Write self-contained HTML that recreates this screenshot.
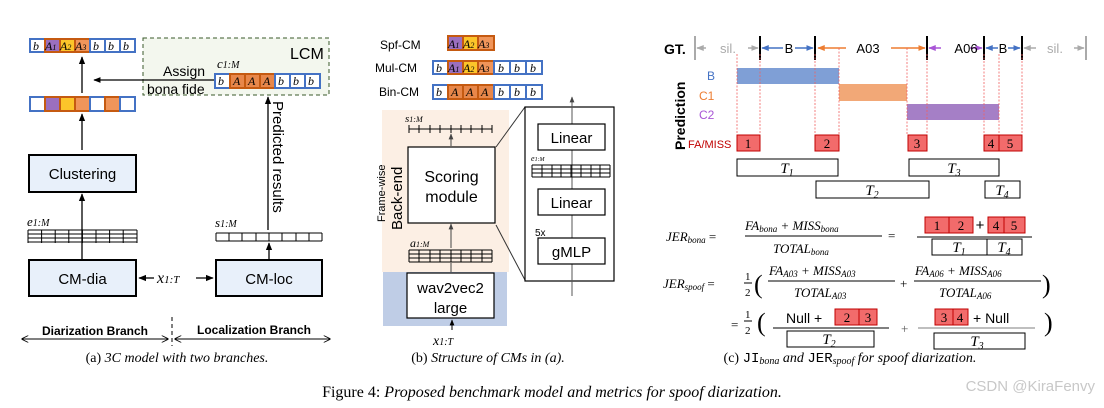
<!DOCTYPE html>
<html><head><meta charset="utf-8"><style>
html,body{margin:0;padding:0;background:#fff}
svg{display:block}
.s{font-family:"Liberation Sans",sans-serif}
.m{font-family:"Liberation Serif",serif;font-style:italic}
</style></head><body>
<svg width="1104" height="408" viewBox="0 0 1104 408" xmlns="http://www.w3.org/2000/svg">
<defs>
<marker id="ah" viewBox="0 0 10 10" refX="9" refY="5" markerWidth="6" markerHeight="6" orient="auto-start-reverse"><path d="M0,1 L10,5 L0,9z" fill="#000"/></marker>
<marker id="ag" viewBox="0 0 10 10" refX="9" refY="5" markerWidth="6" markerHeight="6" orient="auto-start-reverse"><path d="M0,1 L10,5 L0,9z" fill="#444"/></marker>
<marker id="oa" viewBox="0 0 10 10" refX="9" refY="5" markerWidth="7" markerHeight="7" orient="auto-start-reverse"><path d="M0,0 L10,5 L0,10" fill="none" stroke="#000" stroke-width="1.2"/></marker>
<marker id="gb" viewBox="0 0 10 10" refX="9" refY="5" markerWidth="5" markerHeight="5" orient="auto-start-reverse"><path d="M0,1 L10,5 L0,9z" fill="#4472c4"/></marker>
<marker id="go" viewBox="0 0 10 10" refX="9" refY="5" markerWidth="5" markerHeight="5" orient="auto-start-reverse"><path d="M0,1 L10,5 L0,9z" fill="#ed7d31"/></marker>
<marker id="gp" viewBox="0 0 10 10" refX="9" refY="5" markerWidth="5" markerHeight="5" orient="auto-start-reverse"><path d="M0,1 L10,5 L0,9z" fill="#a855d6"/></marker>
<marker id="gg" viewBox="0 0 10 10" refX="9" refY="5" markerWidth="5" markerHeight="5" orient="auto-start-reverse"><path d="M0,1 L10,5 L0,9z" fill="#aaa"/></marker>
</defs>

<!-- ===== Panel (a) ===== -->
<!-- LCM box -->
<rect x="143" y="38" width="186" height="57" fill="#f3f7ee" stroke="#3a5a2a" stroke-dasharray="4,3"/>
<text x="290" y="59" class="s" font-size="16">LCM</text>
<!-- top row -->
<g stroke-width="2">
<rect x="30" y="39" width="15" height="13" fill="#fff" stroke="#4472c4"/>
<rect x="45" y="39" width="15" height="13" fill="#9b6fbf" stroke="#c55a11"/>
<rect x="60" y="39" width="15" height="13" fill="#fcc52a" stroke="#c55a11"/>
<rect x="75" y="39" width="15" height="13" fill="#f0955a" stroke="#c55a11"/>
<rect x="90" y="39" width="15" height="13" fill="#fff" stroke="#4472c4"/>
<rect x="105" y="39" width="15" height="13" fill="#fff" stroke="#4472c4"/>
<rect x="120" y="39" width="15" height="13" fill="#fff" stroke="#4472c4"/>
</g>
<g class="m" font-size="12">
<text x="33" y="50">b</text><text x="45" y="50">A<tspan font-size="8">1</tspan></text><text x="60" y="50">A<tspan font-size="8">2</tspan></text><text x="75" y="50">A<tspan font-size="8">3</tspan></text><text x="93" y="50">b</text><text x="108" y="50">b</text><text x="123" y="50">b</text>
</g>
<line x1="82" y1="93" x2="82" y2="57" stroke="#000" stroke-width="1.3" marker-end="url(#ah)"/>
<!-- middle row -->
<g stroke-width="2">
<rect x="30" y="97" width="15" height="14" fill="#fff" stroke="#4472c4"/>
<rect x="45" y="97" width="15" height="14" fill="#9b6fbf" stroke="#c55a11"/>
<rect x="60" y="97" width="15" height="14" fill="#fcc52a" stroke="#c55a11"/>
<rect x="75" y="97" width="15" height="14" fill="#f0955a" stroke="#c55a11"/>
<rect x="90" y="97" width="15" height="14" fill="#fff" stroke="#4472c4"/>
<rect x="105" y="97" width="15" height="14" fill="#f0955a" stroke="#c55a11"/>
<rect x="120" y="97" width="15" height="14" fill="#fff" stroke="#4472c4"/>
</g>
<line x1="82" y1="150" x2="82" y2="114" stroke="#000" stroke-width="1.3" marker-end="url(#ah)"/>
<!-- LCM row -->
<text x="217" y="68" class="m" font-size="13">c<tspan font-size="10">1:M</tspan></text>
<g stroke-width="2">
<rect x="215" y="74" width="15" height="14" fill="#fff" stroke="#4472c4"/>
<rect x="230" y="74" width="15" height="14" fill="#e8874a" stroke="#c55a11"/>
<rect x="245" y="74" width="15" height="14" fill="#e8874a" stroke="#c55a11"/>
<rect x="260" y="74" width="15" height="14" fill="#e8874a" stroke="#c55a11"/>
<rect x="275" y="74" width="15" height="14" fill="#fff" stroke="#4472c4"/>
<rect x="290" y="74" width="15" height="14" fill="#fff" stroke="#4472c4"/>
<rect x="305" y="74" width="15" height="14" fill="#fff" stroke="#4472c4"/>
</g>
<g class="m" font-size="12">
<text x="218" y="85">b</text><text x="233" y="85">A</text><text x="248" y="85">A</text><text x="263" y="85">A</text><text x="278" y="85">b</text><text x="293" y="85">b</text><text x="308" y="85">b</text>
</g>
<line x1="214" y1="80" x2="94" y2="80" stroke="#000" stroke-width="1.2" marker-end="url(#ah)"/>
<text x="163" y="76" class="s" font-size="14">Assign</text>
<text x="147" y="94" class="s" font-size="14">bona fide</text>
<!-- Clustering -->
<rect x="29" y="155" width="107" height="37" fill="#e8f0fa" stroke="#000" stroke-width="2"/>
<text x="82.5" y="179" class="s" font-size="15" text-anchor="middle">Clustering</text>
<!-- e grid -->
<text x="27" y="226" class="m" font-size="13">e<tspan font-size="10">1:M</tspan></text>
<g stroke="#000" stroke-width="1">
<line x1="28" y1="230" x2="137" y2="230"/><line x1="28" y1="234" x2="137" y2="234"/><line x1="28" y1="238" x2="137" y2="238"/><line x1="28" y1="242" x2="137" y2="242"/>
<line x1="28" y1="230" x2="28" y2="243"/><line x1="41.6" y1="230" x2="41.6" y2="243"/><line x1="55.2" y1="230" x2="55.2" y2="243"/><line x1="68.8" y1="230" x2="68.8" y2="243"/><line x1="82.4" y1="230" x2="82.4" y2="243"/><line x1="96" y1="230" x2="96" y2="243"/><line x1="109.6" y1="230" x2="109.6" y2="243"/><line x1="123.2" y1="230" x2="123.2" y2="243"/><line x1="137" y1="230" x2="137" y2="243"/>
</g>
<line x1="82" y1="259" x2="82" y2="194" stroke="#000" stroke-width="1.3" marker-end="url(#ah)"/>
<rect x="29" y="260" width="107" height="36" fill="#e8f0fa" stroke="#000" stroke-width="2"/>
<text x="82.5" y="284" class="s" font-size="15" text-anchor="middle">CM-dia</text>
<rect x="216" y="260" width="106" height="36" fill="#e8f0fa" stroke="#000" stroke-width="2"/>
<text x="269" y="284" class="s" font-size="15" text-anchor="middle">CM-loc</text>
<text x="157" y="283" class="m" font-size="16">x<tspan font-size="11">1:T</tspan></text>
<line x1="154" y1="278" x2="139" y2="278" stroke="#000" stroke-width="1.3" marker-end="url(#ah)"/>
<line x1="196" y1="278" x2="213" y2="278" stroke="#000" stroke-width="1.3" marker-end="url(#ah)"/>
<!-- s grid -->
<text x="215" y="227" class="m" font-size="13">s<tspan font-size="10">1:M</tspan></text>
<g stroke="#000" stroke-width="1">
<line x1="216" y1="233" x2="322" y2="233"/><line x1="216" y1="241" x2="322" y2="241"/>
<line x1="216" y1="233" x2="216" y2="241"/><line x1="229" y1="233" x2="229" y2="241"/><line x1="242" y1="233" x2="242" y2="241"/><line x1="256" y1="233" x2="256" y2="241"/><line x1="269" y1="233" x2="269" y2="241"/><line x1="282" y1="233" x2="282" y2="241"/><line x1="296" y1="233" x2="296" y2="241"/><line x1="309" y1="233" x2="309" y2="241"/><line x1="322" y1="233" x2="322" y2="241"/>
</g>
<line x1="269" y1="259" x2="269" y2="243" stroke="#000" stroke-width="1.3" marker-end="url(#ah)"/>
<line x1="268" y1="230" x2="268" y2="97" stroke="#000" stroke-width="1.3" marker-end="url(#ah)"/>
<text transform="translate(273,101) rotate(90)" class="s" font-size="15">Predicted results</text>
<!-- branches -->
<line x1="172" y1="317" x2="172" y2="346" stroke="#000" stroke-dasharray="4,3"/>
<line x1="22" y1="339" x2="168" y2="339" stroke="#000" marker-start="url(#oa)" marker-end="url(#oa)"/>
<line x1="175" y1="339" x2="330" y2="339" stroke="#000" marker-start="url(#oa)" marker-end="url(#oa)"/>
<text x="95" y="335" class="s" font-size="12" font-weight="bold" text-anchor="middle">Diarization Branch</text>
<text x="254" y="334" class="s" font-size="12" font-weight="bold" text-anchor="middle">Localization Branch</text>
<text x="177" y="362" font-family="Liberation Serif,serif" font-size="14" text-anchor="middle">(a) <tspan font-style="italic">3C model with two branches.</tspan></text>

<!-- ===== Panel (b) ===== -->
<text x="380" y="49" class="s" font-size="12">Spf-CM</text>
<text x="375" y="72" class="s" font-size="12">Mul-CM</text>
<text x="379" y="96" class="s" font-size="12">Bin-CM</text>
<g stroke-width="2">
<rect x="448" y="36" width="15" height="14" fill="#9b6fbf" stroke="#c55a11"/>
<rect x="463" y="36" width="15" height="14" fill="#fcc52a" stroke="#c55a11"/>
<rect x="478" y="36" width="16" height="14" fill="#f0955a" stroke="#c55a11"/>
<rect x="433" y="61" width="15" height="13" fill="#fff" stroke="#4472c4"/>
<rect x="448" y="61" width="15" height="13" fill="#9b6fbf" stroke="#c55a11"/>
<rect x="463" y="61" width="15" height="13" fill="#fcc52a" stroke="#c55a11"/>
<rect x="478" y="61" width="16" height="13" fill="#f0955a" stroke="#c55a11"/>
<rect x="494" y="61" width="16" height="13" fill="#fff" stroke="#4472c4"/>
<rect x="510" y="61" width="16" height="13" fill="#fff" stroke="#4472c4"/>
<rect x="526" y="61" width="16" height="13" fill="#fff" stroke="#4472c4"/>
<rect x="433" y="85" width="15" height="14" fill="#fff" stroke="#4472c4"/>
<rect x="448" y="85" width="15" height="14" fill="#e8874a" stroke="#c55a11"/>
<rect x="463" y="85" width="15" height="14" fill="#e8874a" stroke="#c55a11"/>
<rect x="478" y="85" width="16" height="14" fill="#e8874a" stroke="#c55a11"/>
<rect x="494" y="85" width="16" height="14" fill="#fff" stroke="#4472c4"/>
<rect x="510" y="85" width="16" height="14" fill="#fff" stroke="#4472c4"/>
<rect x="526" y="85" width="16" height="14" fill="#fff" stroke="#4472c4"/>
</g>
<g class="m" font-size="12">
<text x="448" y="48">A<tspan font-size="8">1</tspan></text><text x="463" y="48">A<tspan font-size="8">2</tspan></text><text x="478" y="48">A<tspan font-size="8">3</tspan></text>
<text x="436" y="72">b</text><text x="448" y="72">A<tspan font-size="8">1</tspan></text><text x="463" y="72">A<tspan font-size="8">2</tspan></text><text x="478" y="72">A<tspan font-size="8">3</tspan></text><text x="498" y="72">b</text><text x="514" y="72">b</text><text x="530" y="72">b</text>
<text x="436" y="96">b</text><text x="451" y="96">A</text><text x="466" y="96">A</text><text x="481" y="96">A</text><text x="498" y="96">b</text><text x="514" y="96">b</text><text x="530" y="96">b</text>
</g>
<rect x="382" y="110" width="127" height="162" fill="#fcefe4"/>
<rect x="383" y="272" width="124" height="54" fill="#bfcde6"/>
<text transform="translate(385,222) rotate(-90)" class="s" font-size="11">Frame-wise</text>
<text transform="translate(402,230) rotate(-90)" class="s" font-size="15">Back-end</text>
<text x="405" y="122" class="m" font-size="11">s<tspan font-size="8">1:M</tspan></text>
<g stroke="#000" stroke-width="1">
<line x1="409" y1="129" x2="492" y2="129"/>
<line x1="409" y1="125" x2="409" y2="133"/><line x1="419" y1="125" x2="419" y2="133"/><line x1="430" y1="125" x2="430" y2="133"/><line x1="440" y1="125" x2="440" y2="133"/><line x1="451" y1="125" x2="451" y2="133"/><line x1="461" y1="125" x2="461" y2="133"/><line x1="471" y1="125" x2="471" y2="133"/><line x1="482" y1="125" x2="482" y2="133"/><line x1="492" y1="125" x2="492" y2="133"/>
</g>
<line x1="451" y1="146" x2="451" y2="134" stroke="#444" stroke-width="1" marker-end="url(#ag)"/>
<rect x="408" y="147" width="87" height="76" fill="#fff" stroke="#000" stroke-width="1.2"/>
<text x="451.5" y="182" class="s" font-size="16" text-anchor="middle">Scoring</text>
<text x="451.5" y="202" class="s" font-size="16" text-anchor="middle">module</text>
<line x1="451" y1="248" x2="451" y2="224" stroke="#444" stroke-width="1" marker-end="url(#ag)"/>
<text x="410" y="247" class="m" font-size="12">a<tspan font-size="8">1:M</tspan></text>
<g stroke="#000" stroke-width="1">
<line x1="409" y1="250" x2="492" y2="250"/><line x1="409" y1="254" x2="492" y2="254"/><line x1="409" y1="258" x2="492" y2="258"/><line x1="409" y1="262" x2="492" y2="262"/>
<line x1="409" y1="250" x2="409" y2="262"/><line x1="419" y1="250" x2="419" y2="262"/><line x1="430" y1="250" x2="430" y2="262"/><line x1="440" y1="250" x2="440" y2="262"/><line x1="451" y1="250" x2="451" y2="262"/><line x1="461" y1="250" x2="461" y2="262"/><line x1="471" y1="250" x2="471" y2="262"/><line x1="482" y1="250" x2="482" y2="262"/><line x1="492" y1="250" x2="492" y2="262"/>
</g>
<line x1="451" y1="272" x2="451" y2="263" stroke="#444" stroke-width="1"/>
<rect x="407" y="273" width="87" height="45" fill="#fff" stroke="#000" stroke-width="1.2"/>
<text x="450.5" y="293" class="s" font-size="15" text-anchor="middle">wav2vec2</text>
<text x="450.5" y="313" class="s" font-size="15" text-anchor="middle">large</text>
<line x1="452" y1="330" x2="452" y2="320" stroke="#000" stroke-width="1" marker-end="url(#ah)"/>
<text x="433" y="345" class="m" font-size="14">x<tspan font-size="10">1:T</tspan></text>
<!-- zoom box -->
<line x1="496" y1="147" x2="525" y2="107" stroke="#333"/>
<line x1="496" y1="225" x2="525" y2="280" stroke="#333"/>
<rect x="525" y="107" width="89" height="174" fill="#fff" stroke="#000" stroke-width="1.2"/>
<line x1="572" y1="296" x2="572" y2="97" stroke="#555" stroke-width="1" marker-end="url(#ag)"/>
<rect x="538" y="124" width="67" height="26" fill="#fff" stroke="#000" stroke-width="1.2"/>
<text x="571.5" y="143" class="s" font-size="15" text-anchor="middle">Linear</text>
<rect x="538" y="189" width="67" height="26" fill="#fff" stroke="#000" stroke-width="1.2"/>
<text x="571.5" y="208" class="s" font-size="15" text-anchor="middle">Linear</text>
<rect x="538" y="238" width="67" height="26" fill="#fff" stroke="#000" stroke-width="1.2"/>
<text x="571.5" y="257" class="s" font-size="15" text-anchor="middle">gMLP</text>
<text x="535" y="236" class="s" font-size="10">5x</text>
<text x="531" y="161" class="m" font-size="8">e<tspan font-size="6">1:M</tspan></text>
<g stroke="#000" stroke-width="1">
<line x1="532" y1="165" x2="610" y2="165"/><line x1="532" y1="169" x2="610" y2="169"/><line x1="532" y1="173" x2="610" y2="173"/><line x1="532" y1="177" x2="610" y2="177"/>
<line x1="532" y1="165" x2="532" y2="177"/><line x1="542" y1="165" x2="542" y2="177"/><line x1="552" y1="165" x2="552" y2="177"/><line x1="561" y1="165" x2="561" y2="177"/><line x1="571" y1="165" x2="571" y2="177"/><line x1="581" y1="165" x2="581" y2="177"/><line x1="591" y1="165" x2="591" y2="177"/><line x1="600" y1="165" x2="600" y2="177"/><line x1="610" y1="165" x2="610" y2="177"/>
</g>
<text x="488" y="362" font-family="Liberation Serif,serif" font-size="14" text-anchor="middle">(b) <tspan font-style="italic">Structure of CMs in (a).</tspan></text>

<!-- ===== Panel (c) ===== -->
<text x="664" y="54" class="s" font-size="14" font-weight="bold">GT.</text>
<text transform="translate(685,150) rotate(-90)" class="s" font-size="14" font-weight="bold">Prediction</text>
<!-- GT line -->
<g stroke-width="1.5">
<line x1="697" y1="48" x2="706" y2="48" stroke="#aaa" marker-start="url(#gg)"/>
<line x1="748" y1="48" x2="758" y2="48" stroke="#aaa" marker-end="url(#gg)"/>
<line x1="762" y1="48" x2="783" y2="48" stroke="#4472c4" marker-start="url(#gb)"/>
<line x1="795" y1="48" x2="813" y2="48" stroke="#4472c4" marker-end="url(#gb)"/>
<line x1="818" y1="48" x2="846" y2="48" stroke="#ed7d31" marker-start="url(#go)"/>
<line x1="891" y1="48" x2="925" y2="48" stroke="#ed7d31" marker-end="url(#go)"/>
<line x1="929" y1="48" x2="941" y2="48" stroke="#a855d6" marker-start="url(#gp)"/>
<line x1="970" y1="48" x2="982" y2="48" stroke="#a855d6" marker-end="url(#gp)"/>
<line x1="986" y1="48" x2="998" y2="48" stroke="#4472c4" marker-start="url(#gb)"/>
<line x1="1008" y1="48" x2="1020" y2="48" stroke="#4472c4" marker-end="url(#gb)"/>
<line x1="1024" y1="48" x2="1036" y2="48" stroke="#aaa" marker-start="url(#gg)"/>
<line x1="1074" y1="48" x2="1084" y2="48" stroke="#aaa" marker-end="url(#gg)"/>
</g>
<g stroke-width="2">
<line x1="695" y1="36" x2="695" y2="60" stroke="#aaa"/><line x1="1086" y1="36" x2="1086" y2="60" stroke="#aaa"/>
<line x1="760" y1="36" x2="760" y2="60" stroke="#000"/><line x1="815" y1="36" x2="815" y2="60" stroke="#000"/><line x1="927" y1="36" x2="927" y2="60" stroke="#000"/><line x1="984" y1="36" x2="984" y2="60" stroke="#000"/><line x1="1022" y1="36" x2="1022" y2="60" stroke="#000"/>
</g>
<g class="s" font-size="13">
<text x="728" y="53" fill="#aaa" text-anchor="middle">sil.</text>
<text x="789" y="53" text-anchor="middle">B</text>
<text x="868" y="53" text-anchor="middle">A03</text>
<text x="966" y="53" text-anchor="middle">A06</text>
<text x="1003" y="53" text-anchor="middle">B</text>
<text x="1055" y="53" fill="#aaa" text-anchor="middle">sil.</text>
</g>
<g class="s" font-size="12">
<text x="707" y="80" fill="#4472c4">B</text>
<text x="699" y="100" fill="#ed7d31">C1</text>
<text x="699" y="119" fill="#a855d6">C2</text>
<text x="688" y="148" fill="#c00000" font-size="11">FA/MISS</text>
</g>
<rect x="737" y="68" width="102" height="16" fill="#7f9fd6"/>
<rect x="839" y="84" width="68" height="17" fill="#f2a877"/>
<rect x="907" y="104" width="92" height="16" fill="#a57fc6"/>
<g stroke="#f06060" stroke-width="0.8" stroke-dasharray="2,1.5">
<line x1="737" y1="54" x2="737" y2="135"/><line x1="760" y1="54" x2="760" y2="135"/><line x1="815" y1="54" x2="815" y2="135"/><line x1="839" y1="48" x2="839" y2="135"/><line x1="907" y1="48" x2="907" y2="135"/><line x1="927" y1="54" x2="927" y2="135"/><line x1="984" y1="54" x2="984" y2="135"/><line x1="999" y1="54" x2="999" y2="135"/><line x1="1022" y1="54" x2="1022" y2="135"/>
</g>
<g fill="#f26b6b" stroke="#c00000" stroke-width="1">
<rect x="737" y="135" width="23" height="16"/><rect x="815" y="135" width="24" height="16"/><rect x="908" y="135" width="19" height="16"/><rect x="984" y="135" width="15" height="16"/><rect x="999" y="135" width="23" height="16"/>
</g>
<g font-family="Liberation Serif,serif" font-size="13" text-anchor="middle">
<text x="748" y="148">1</text><text x="827" y="148">2</text><text x="917" y="148">3</text><text x="991" y="148">4</text><text x="1010" y="148">5</text>
</g>
<g fill="none" stroke="#000" stroke-width="1">
<rect x="737" y="159" width="101" height="17"/><rect x="909" y="159" width="90" height="17"/>
<rect x="816" y="181" width="113" height="17"/><rect x="985" y="181" width="35" height="17"/>
</g>
<g class="m" font-size="15" text-anchor="middle">
<text x="787" y="173">T<tspan font-size="10" dy="3">1</tspan></text>
<text x="954" y="173">T<tspan font-size="10" dy="3">3</tspan></text>
<text x="872" y="195">T<tspan font-size="10" dy="3">2</tspan></text>
<text x="1002" y="195">T<tspan font-size="10" dy="3">4</tspan></text>
</g>
<!-- formulas -->
<g class="m" font-size="13">
<text x="666" y="241">JER<tspan font-size="9" dy="2">bona</tspan><tspan font-style="normal" dy="-2"> =</tspan></text>
<text x="745" y="230">FA<tspan font-size="9" dy="2">bona</tspan><tspan dy="-2"> + MISS</tspan><tspan font-size="9" dy="2">bona</tspan></text>
<line x1="745" y1="236" x2="882" y2="236" stroke="#000"/>
<text x="773" y="253">TOTAL<tspan font-size="9" dy="2">bona</tspan></text>
<text x="888" y="240" font-style="normal">=</text>
<text x="663" y="288">JER<tspan font-size="9" dy="2">spoof</tspan><tspan font-style="normal" dy="-2"> =</tspan></text>
<text x="745" y="280" font-style="normal" font-size="11">1</text>
<line x1="744" y1="283" x2="752" y2="283" stroke="#000"/>
<text x="745" y="296" font-style="normal" font-size="11">2</text>
<text x="754" y="293" font-style="normal" font-size="26" transform="scale(1,1)">(</text>
<text x="769" y="275">FA<tspan font-size="9" dy="2">A03</tspan><tspan dy="-2"> + MISS</tspan><tspan font-size="9" dy="2">A03</tspan></text>
<line x1="768" y1="281" x2="895" y2="281" stroke="#000"/>
<text x="794" y="297">TOTAL<tspan font-size="9" dy="2">A03</tspan></text>
<text x="900" y="288" font-style="normal">+</text>
<text x="915" y="275">FA<tspan font-size="9" dy="2">A06</tspan><tspan dy="-2"> + MISS</tspan><tspan font-size="9" dy="2">A06</tspan></text>
<line x1="914" y1="281" x2="1041" y2="281" stroke="#000"/>
<text x="939" y="297">TOTAL<tspan font-size="9" dy="2">A06</tspan></text>
<text x="1042" y="293" font-style="normal" font-size="26">)</text>
<text x="731" y="329" font-style="normal">=</text>
<text x="745" y="318" font-style="normal" font-size="11">1</text>
<line x1="744" y1="321" x2="752" y2="321" stroke="#000"/>
<text x="745" y="334" font-style="normal" font-size="11">2</text>
<text x="757" y="331" font-style="normal" font-size="26">(</text>
<text x="1044" y="331" font-style="normal" font-size="26">)</text>
<text x="901" y="333" font-style="normal" fill="#555">+</text>
</g>
<!-- bona boxes -->
<g fill="#f26b6b" stroke="#c00000">
<rect x="925" y="217" width="24" height="16"/><rect x="949" y="217" width="24" height="16"/>
<rect x="988" y="217" width="16" height="16"/><rect x="1004" y="217" width="21" height="16"/>
<rect x="835" y="309" width="24" height="16"/><rect x="859" y="309" width="18" height="16"/>
<rect x="935" y="309" width="18" height="16"/><rect x="953" y="309" width="15" height="16"/>
</g>
<g font-family="Liberation Serif,serif" font-size="13" text-anchor="middle">
<text x="937" y="230">1</text><text x="961" y="230">2</text><text x="996" y="230">4</text><text x="1014" y="230">5</text>
<text x="847" y="322">2</text><text x="868" y="322">3</text><text x="944" y="322">3</text><text x="960" y="322">4</text>
</g>
<text x="980" y="230" class="s" font-size="15" text-anchor="middle">+</text>
<line x1="917" y1="237" x2="1032" y2="237" stroke="#000"/>
<rect x="932" y="239" width="90" height="16" fill="none" stroke="#000"/>
<line x1="987" y1="239" x2="987" y2="255" stroke="#000"/>
<g class="m" font-size="15" text-anchor="middle">
<text x="959" y="252">T<tspan font-size="10" dy="3">1</tspan></text>
<text x="1004" y="252">T<tspan font-size="10" dy="3">4</tspan></text>
</g>
<text x="786" y="323" class="s" font-size="14">Null +</text>
<text x="973" y="323" class="s" font-size="14">+ Null</text>
<line x1="773" y1="328" x2="889" y2="328" stroke="#000"/>
<line x1="918" y1="328" x2="1035" y2="328" stroke="#aaa" stroke-width="1.5"/>
<rect x="787" y="331" width="87" height="16" fill="none" stroke="#000"/>
<rect x="934" y="333" width="91" height="16" fill="none" stroke="#000"/>
<g class="m" font-size="15" text-anchor="middle">
<text x="829" y="344">T<tspan font-size="10" dy="3">2</tspan></text>
<text x="977" y="346">T<tspan font-size="10" dy="3">3</tspan></text>
</g>
<text x="850" y="362" font-family="Liberation Serif,serif" font-size="14" text-anchor="middle">(c) <tspan font-family="Liberation Mono,monospace">JI</tspan><tspan font-style="italic" font-size="10" dy="2">bona</tspan><tspan font-style="italic" dy="-2"> and </tspan><tspan font-family="Liberation Mono,monospace">JER</tspan><tspan font-style="italic" font-size="10" dy="2">spoof</tspan><tspan font-style="italic" dy="-2"> for spoof diarization.</tspan></text>

<!-- figure caption -->
<text x="552" y="397" font-family="Liberation Serif,serif" font-size="16" text-anchor="middle">Figure 4: <tspan font-style="italic">Proposed benchmark model and metrics for spoof diarization.</tspan></text>
<text x="1095" y="391" class="s" font-size="15" fill="#c8c8c8" text-anchor="end">CSDN @KiraFenvy</text>
</svg>
</body></html>
